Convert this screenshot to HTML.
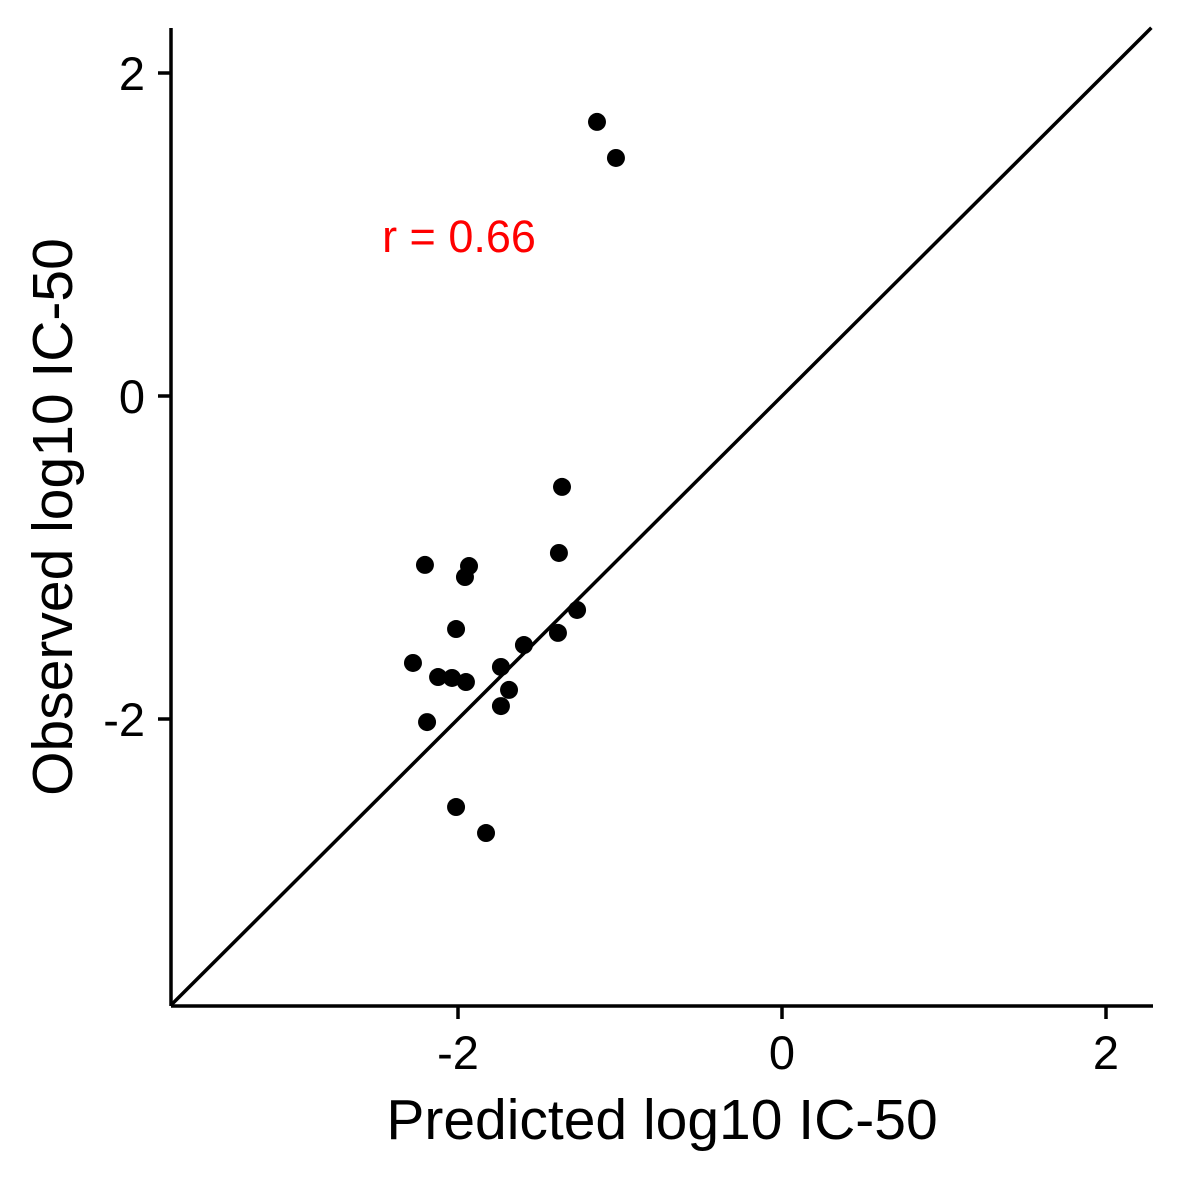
<!DOCTYPE html>
<html><head><meta charset="utf-8"><style>html,body{margin:0;padding:0;background:#fff}svg{display:block}text{font-family:"Liberation Sans",Arial,sans-serif}</style></head>
<body>
<svg id="chart" width="1181" height="1181" viewBox="0 0 1181 1181" xmlns="http://www.w3.org/2000/svg">
<g id="marks"></g>
</svg>
<script>
const predicted = [-1.142,-1.025,-1.358,-1.377,-2.204,-1.932,-1.957,-1.265,-2.012,-1.383,-1.593,-2.278,-1.735,-2.123,-2.037,-1.951,-1.685,-1.735,-2.191,-2.012,-1.827];
const observed  = [1.697,1.474,-0.563,-0.972,-1.046,-1.053,-1.121,-1.325,-1.443,-1.467,-1.542,-1.653,-1.678,-1.740,-1.746,-1.771,-1.820,-1.920,-2.019,-2.545,-2.706];
const xTicks = [-2,0,2];
const yTicks = [-2,0,2];
const corrLabel = "r = 0.66";
const xMin=-3.77, xMax=2.29, yMin=-3.777, yMax=2.28;
const L=171, R=1153, T=28, B=1006;
const sx = v => 782 + v*162;
const sy = v => 396 - v*161.5;
const NS="http://www.w3.org/2000/svg";
const g=document.getElementById('marks');
function mk(tag, attrs){const e=document.createElementNS(NS,tag);for(const k in attrs)e.setAttribute(k,attrs[k]);g.appendChild(e);return e;}
let d=mk('line',{x1:sx(xMin),y1:sy(xMin),x2:sx(Math.min(xMax,yMax)),y2:sy(Math.min(xMax,yMax)),stroke:'#000','stroke-width':3.5});


let ax=mk('line',{x1:L,y1:B,x2:R,y2:B,stroke:'#000','stroke-width':3.5});


let ay=mk('line',{x1:L,y1:B,x2:L,y2:T,stroke:'#000','stroke-width':3.5});


xTicks.forEach(v=>{
  let t=mk('line',{x1:sx(v),y1:B,x2:sx(v),y2:B+13,stroke:'#000','stroke-width':3.5});
  
  
  let l=mk('text',{x:sx(v),y:1069,'text-anchor':'middle','font-size':47});
  l.textContent=String(v);
  
  
});
yTicks.forEach(v=>{
  let t=mk('line',{x1:L-13,y1:sy(v),x2:L,y2:sy(v),stroke:'#000','stroke-width':3.5});
  
  
  let l=mk('text',{x:145,y:sy(v)+17,'text-anchor':'end','font-size':47});
  l.textContent=String(v);
  
  
});
predicted.forEach((p,i)=>{
  let c=mk('circle',{cx:sx(p),cy:sy(observed[i]),r:9,fill:'#000'});
  
  
});
let r=mk('text',{x:459,y:252,'text-anchor':'middle','font-size':45,fill:'#ff0000'});
r.textContent=corrLabel;


let xt=mk('text',{x:662,y:1139,'text-anchor':'middle','font-size':57});
xt.textContent='Predicted log10 IC-50';


let yt=mk('text',{x:0,y:0,'text-anchor':'middle','font-size':57,transform:'translate(72,517) rotate(-90)'});
yt.textContent='Observed log10 IC-50';


</script>
</body></html>
